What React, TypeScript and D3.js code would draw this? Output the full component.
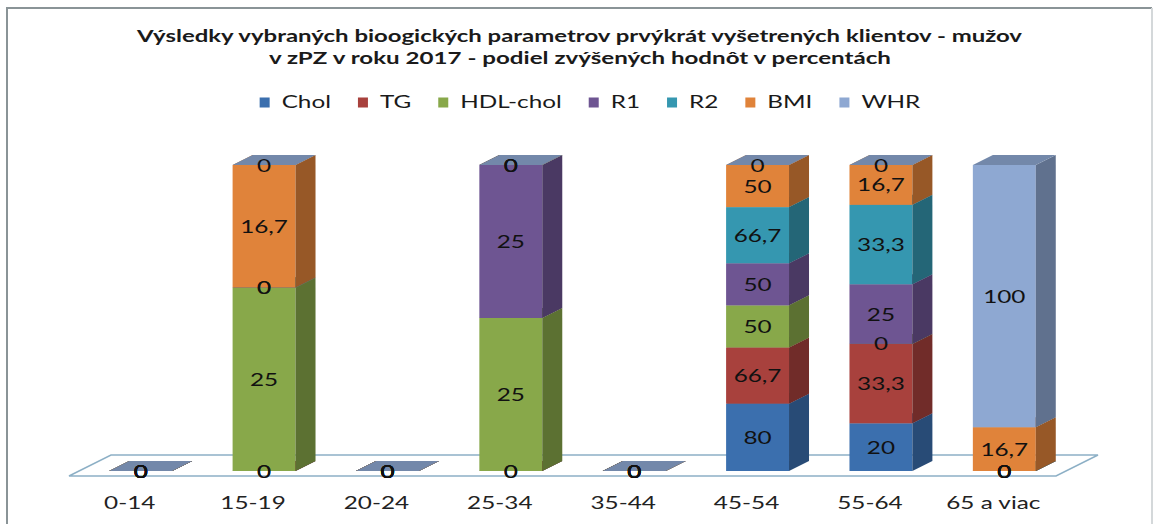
import React, { useEffect, useRef } from 'react';
import * as d3 from 'd3';

// categories and series (percent of raised values)
const categories = ['0-14', '15-19', '20-24', '25-34', '35-44', '45-54', '55-64', '65 a viac'];
const seriesNames = ['Chol', 'TG', 'HDL-chol', 'R1', 'R2', 'BMI', 'WHR'];
const chol = [0, 0, 0, 0, 0, 80, 20, 0];
const tg = [0, 0, 0, 0, 0, 66.7, 33.3, 0];
const hdl = [0, 25, 0, 25, 0, 50, 0, 0];
const r1 = [0, 0, 0, 25, 0, 50, 25, 0];
const r2 = [0, 0, 0, 0, 0, 66.7, 33.3, 0];
const bmi = [0, 16.7, 0, 0, 0, 50, 16.7, 16.7];
const whr = [0, 0, 0, 0, 0, 0, 0, 100];
const seriesValues = [chol, tg, hdl, r1, r2, bmi, whr];
const seriesColors = ['#3b6fae', '#a8413d', '#88a84a', '#6e5592', '#3597b0', '#e0833a', '#8ea8d2'];

const titleLines = [
    'Výsledky vybraných bioogických parametrov prvýkrát vyšetrených klientov - mužov',
    'v zPZ v roku 2017 - podiel zvýšených hodnôt v percentách',
];

const W = 1155;
const H = 524;
const FONT = 'Lato, "Open Sans", sans-serif';
const SX = 1.35; // text in the picture is stretched sideways
const DX = 20; // 3d depth offset
const DY = -10;

const App = () => {
    const svgRef = useRef<SVGSVGElement>(null);

    useEffect(() => {
        const svg = d3.select(svgRef.current);
        svg.selectAll('*').remove();

        // frame
        svg.append('path')
            .attr('d', `M7,${H} L7,8 L1152,8`)
            .attr('fill', 'none')
            .attr('stroke', '#8a9497')
            .attr('stroke-width', 2);
        svg.append('line')
            .attr('x1', 1152).attr('y1', 8).attr('x2', 1152).attr('y2', H)
            .attr('stroke', '#d4d8da')
            .attr('stroke-width', 2);

        // title
        titleLines.forEach((t, i) => {
            svg.append('text')
                .attr('x', i === 0 ? 579.5 : 580)
                .attr('y', i === 0 ? 42 : 63.5)
                .attr('text-anchor', 'middle')
                .attr('font-family', FONT)
                .attr('font-weight', 'bold')
                .attr('font-size', 17)
                .attr('fill', '#1a1a1a')
                .attr('textLength', i === 0 ? 885 : 622)
                .attr('lengthAdjust', 'spacingAndGlyphs')
                .text(t);
        });

        // stacked data, 100% per category
        const rows = categories.map((c, i) => {
            const row: any = { category: c };
            seriesNames.forEach((s, k) => { row[s] = seriesValues[k][i]; });
            return row;
        });
        const layers = d3.stack().keys(seriesNames).offset(d3.stackOffsetExpand)(rows);

        const x = d3.scaleBand().domain(categories).range([79, 1066]).paddingInner(0.49).paddingOuter(0.245);
        const y = d3.scaleLinear().domain([0, 1]).range([471, 165]);
        const bw = x.bandwidth();

        // floor
        const [r0, r1x] = x.range();
        const fy = y(0) + 5;
        const floor = [
            [r0 - 10, fy], [r1x - 10, fy], [r1x + 32, fy - 21], [r0 + 32, fy - 21],
        ];
        svg.append('polygon')
            .attr('points', floor.map(p => p.join(',')).join(' '))
            .attr('fill', '#fff')
            .attr('stroke', '#8db0c6')
            .attr('stroke-width', 1.5);

        // bars
        const bars = svg.append('g');
        categories.forEach((c, i) => {
            const x0 = x(c)!;
            layers.forEach((layer, k) => {
                const d = layer[i];
                const ya = y(d[0]);
                const yb = y(d[1]);
                const col = d3.color(seriesColors[k])!;
                const g = bars.append('g');
                g.append('rect')
                    .attr('x', x0).attr('y', yb)
                    .attr('width', bw).attr('height', Math.max(0, ya - yb))
                    .attr('fill', col.formatHex());
                g.append('polygon')
                    .attr('points', [[x0 + bw, ya], [x0 + bw + DX, ya + DY], [x0 + bw + DX, yb + DY], [x0 + bw, yb]].map(p => p.join(',')).join(' '))
                    .attr('fill', col.darker(1.1).formatHex());
                g.append('polygon')
                    .attr('points', [[x0, yb], [x0 + DX, yb + DY], [x0 + bw + DX, yb + DY], [x0 + bw, yb]].map(p => p.join(',')).join(' '))
                    .attr('fill', col.darker(0.6).formatHex());
            });
        });

        const addText = (g: any, tx: number, ty: number, str: string, size: number, fill: string) =>
            g.append('text')
                .attr('transform', `translate(${tx},${ty}) scale(${SX},1)`)
                .attr('text-anchor', 'middle')
                .attr('font-family', FONT)
                .attr('font-size', size)
                .attr('fill', fill)
                .text(str);

        // value labels
        const labels = svg.append('g');
        layers.forEach((layer, k) => {
            layer.forEach((d, i) => {
                const v = seriesValues[k][i];
                const cx = x(categories[i])! + bw / 2;
                const cy = (y(d[0]) + y(d[1])) / 2;
                addText(labels, cx, cy + 6.5, String(v).replace('.', ','), 18, '#111');
            });
        });

        // category labels
        const axis = svg.append('g');
        categories.forEach(c => {
            addText(axis, x(c)! + bw / 2 - 11, 509, c, 18, '#222');
        });

        // legend
        const legend = svg.append('g');
        let cursor = 0;
        seriesNames.forEach((s, k) => {
            legend.append('rect')
                .attr('x', cursor).attr('y', 97.5)
                .attr('width', 10).attr('height', 10)
                .attr('fill', seriesColors[k]);
            const t = addText(legend, 0, 107.5, s, 18, '#1a1a1a').attr('text-anchor', 'start');
            t.attr('transform', `translate(${cursor + 22},107.5) scale(${SX},1)`);
            const w = (t.node() as SVGTextElement).getComputedTextLength() * SX;
            cursor += 22 + w + 27;
        });
        cursor -= 27;
        legend.attr('transform', `translate(${590 - cursor / 2},0)`);
    }, []);

    return (
        <svg
            ref={svgRef}
            width={W}
            height={H}
            style={{ position: 'absolute', left: 0, top: 0, background: '#fff' }}
        />
    );
};

export default App;
